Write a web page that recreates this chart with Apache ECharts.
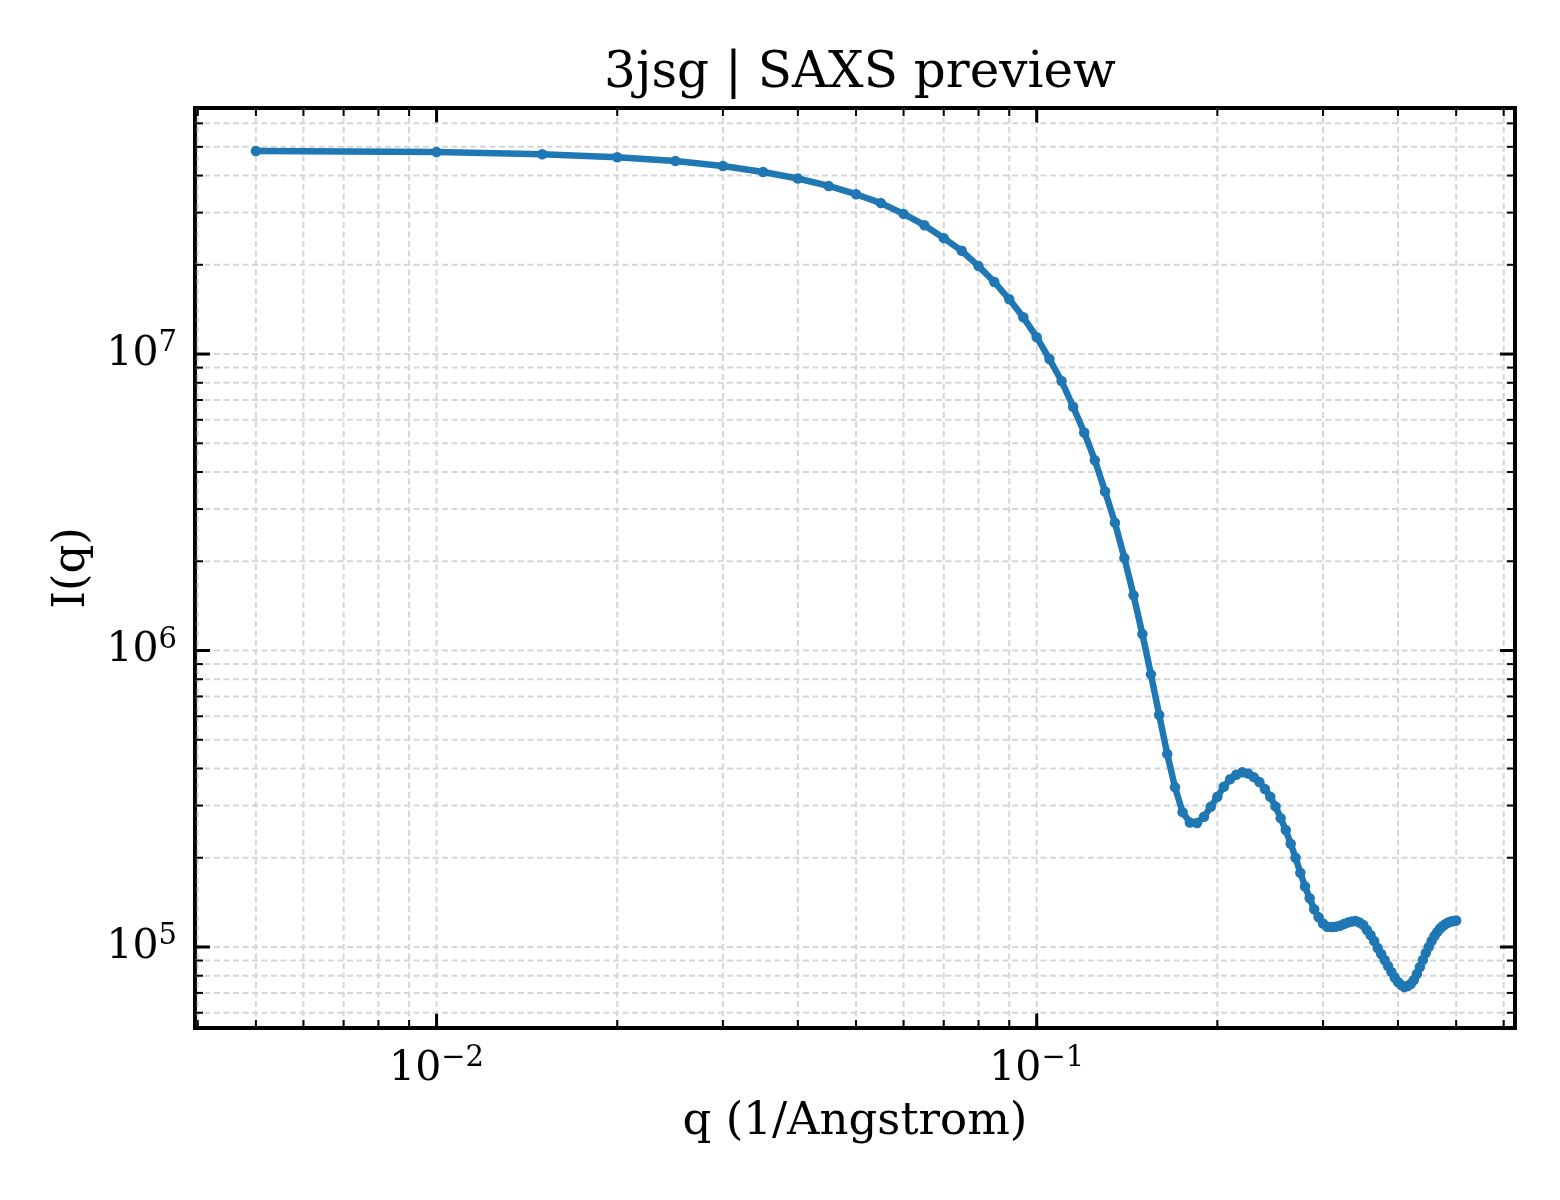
<!DOCTYPE html>
<html lang="en">
<head>
<meta charset="UTF-8">
<title>3jsg | SAXS preview</title>
<script src="https://cdn.jsdelivr.net/npm/echarts@6/dist/echarts.min.js"></script>
<style>
  html, body { margin: 0; padding: 0; background: #fff; }
  #main { width: 1560px; height: 1200px; }
</style>
</head>
<body>
<div id="main"></div>
<script>
// q grid (1/Angstrom) and intensity
var qValues = [
  0.005, 0.010, 0.015, 0.020, 0.025, 0.030, 0.035, 0.040, 0.045, 0.050,
  0.055, 0.060, 0.065, 0.070, 0.075, 0.080, 0.085, 0.090, 0.095, 0.100,
  0.105, 0.110, 0.115, 0.120, 0.125, 0.130, 0.135, 0.140, 0.145, 0.150,
  0.155, 0.160, 0.165, 0.170, 0.175, 0.180, 0.185, 0.190, 0.195, 0.200,
  0.205, 0.210, 0.215, 0.220, 0.225, 0.230, 0.235, 0.240, 0.245, 0.250,
  0.255, 0.260, 0.265, 0.270, 0.275, 0.280, 0.285, 0.290, 0.295, 0.300,
  0.305, 0.310, 0.315, 0.320, 0.325, 0.330, 0.335, 0.340, 0.345, 0.350,
  0.355, 0.360, 0.365, 0.370, 0.375, 0.380, 0.385, 0.390, 0.395, 0.400,
  0.405, 0.410, 0.415, 0.420, 0.425, 0.430, 0.435, 0.440, 0.445, 0.450,
  0.455, 0.460, 0.465, 0.470, 0.475, 0.480, 0.485, 0.490, 0.495, 0.500
];
var intensity = [
  4.84e7, 4.80e7, 4.72e7, 4.61e7, 4.48e7, 4.31e7, 4.11e7, 3.91e7, 3.69e7, 3.46e7,
  3.23e7, 2.97e7, 2.72e7, 2.46e7, 2.23e7, 1.98e7, 1.75e7, 1.53e7, 1.33e7, 1.14e7,
  9.62e6, 8.11e6, 6.64e6, 5.44e6, 4.38e6, 3.44e6, 2.70e6, 2.05e6, 1.535e6, 1.137e6,
  8.31e5, 6.06e5, 4.48e5, 3.46e5, 2.85e5, 2.63e5, 2.62e5, 2.75e5, 2.97e5, 3.21e5,
  3.47e5, 3.68e5, 3.81e5, 3.885e5, 3.85e5, 3.74e5, 3.60e5, 3.41e5, 3.21e5, 2.98e5,
  2.72e5, 2.48e5, 2.23e5, 2.00e5, 1.78e5, 1.60e5, 1.46e5, 1.34e5, 1.26e5, 1.20e5,
  1.17e5, 1.168e5, 1.17e5, 1.18e5, 1.196e5, 1.21e5, 1.219e5, 1.224e5, 1.21e5, 1.187e5,
  1.141e5, 1.098e5, 1.048e5, 9.92e4, 9.47e4, 9.04e4, 8.63e4, 8.24e4, 7.89e4, 7.62e4,
  7.44e4, 7.33e4, 7.38e4, 7.50e4, 7.74e4, 8.11e4, 8.56e4, 9.04e4, 9.54e4, 1.00e5,
  1.048e5, 1.089e5, 1.124e5, 1.154e5, 1.177e5, 1.196e5, 1.21e5, 1.219e5, 1.224e5, 1.229e5
];

// tick values (log axes, matplotlib style)
var xMajorTicks = [0.01, 0.1];
var xMinorTicks = [0.004, 0.005, 0.006, 0.007, 0.008, 0.009,
                   0.02, 0.03, 0.04, 0.05, 0.06, 0.07, 0.08, 0.09,
                   0.2, 0.3, 0.4, 0.5, 0.6];
var yMajorTicks = [1e5, 1e6, 1e7];
var yMinorTicks = [6e4, 7e4, 8e4, 9e4,
                   2e5, 3e5, 4e5, 5e5, 6e5, 7e5, 8e5, 9e5,
                   2e6, 3e6, 4e6, 5e6, 6e6, 7e6, 8e6, 9e6,
                   2e7, 3e7, 4e7, 5e7, 6e7];

var serif = 'DejaVu Serif';
var myChart = echarts.init(document.getElementById('main'));

// [x, y, major?0:1, dir x=0 / y=1]
var tickData = [];
xMajorTicks.forEach(function (v) { tickData.push([v, 1e6, 0, 0]); });
xMinorTicks.forEach(function (v) { tickData.push([v, 1e6, 1, 0]); });
yMajorTicks.forEach(function (v) { tickData.push([0.05, v, 0, 1]); });
yMinorTicks.forEach(function (v) { tickData.push([0.05, v, 1, 1]); });

var curve = qValues.map(function (q, i) { return [q, intensity[i]]; });

function powLabel(v) {
    var lg = Math.log10(v);
    var e = Math.round(lg);
    if (Math.abs(lg - e) > 1e-6) return '';
    return '{b|10}{s|' + (e < 0 ? '\u2212' + (-e) : e) + '}';
}

var labelRich = {
    b: { fontSize: 41, fontFamily: serif, color: '#000', lineHeight: 50 },
    s: { fontSize: 29, fontFamily: serif, color: '#000', lineHeight: 30, verticalAlign: 'top' }
};

function renderTicks(params, api) {
    var r = params.coordSys;
    var major = api.value(2) === 0;
    var isY = api.value(3) === 1;
    var len = major ? 15 : 8;
    var tickStyle = { stroke: '#000', lineWidth: major ? 3 : 2 };
    var gridStyle = { stroke: '#d6d6d6', lineWidth: 2, lineDash: [6, 3.5] };
    var p = api.coord([api.value(0), api.value(1)]);
    var kids = [];
    if (!isY) {
        var x = p[0];
        kids.push({ type: 'line', shape: { x1: x, y1: r.y, x2: x, y2: r.y + r.height }, style: gridStyle });
        kids.push({ type: 'line', shape: { x1: x, y1: r.y + r.height, x2: x, y2: r.y + r.height - len }, style: tickStyle });
        kids.push({ type: 'line', shape: { x1: x, y1: r.y, x2: x, y2: r.y + len }, style: tickStyle });
    } else {
        var y = p[1];
        kids.push({ type: 'line', shape: { x1: r.x, y1: y, x2: r.x + r.width, y2: y }, style: gridStyle });
        kids.push({ type: 'line', shape: { x1: r.x, y1: y, x2: r.x + len, y2: y }, style: tickStyle });
        kids.push({ type: 'line', shape: { x1: r.x + r.width, y1: y, x2: r.x + r.width - len, y2: y }, style: tickStyle });
    }
    return { type: 'group', children: kids };
}

var option = {
    animation: false,
    backgroundColor: '#fff',
    title: {
        text: '3jsg | SAXS preview',
        left: 855,
        textAlign: 'center',
        top: 44,
        textStyle: { fontFamily: serif, fontSize: 50, fontWeight: 'normal', color: '#000' }
    },
    grid: {
        left: 195, right: 45, top: 108, bottom: 172,
        show: true, borderColor: '#000', borderWidth: 4, backgroundColor: 'transparent'
    },
    xAxis: {
        type: 'log',
        logBase: 10,
        min: 0.003958,
        max: 0.6266,
        name: 'q (1/Angstrom)',
        nameLocation: 'middle',
        nameGap: 72,
        nameTextStyle: { fontFamily: serif, fontSize: 45, color: '#000' },
        axisLine: { show: false },
        axisTick: { show: false },
        splitLine: { show: false },
        axisLabel: { margin: 16, formatter: powLabel, rich: labelRich, showMinLabel: false, showMaxLabel: false }
    },
    yAxis: {
        type: 'log',
        logBase: 10,
        min: 53300,
        max: 6.76e7,
        name: 'I(q)',
        nameLocation: 'middle',
        nameGap: 100,
        nameTextStyle: { fontFamily: serif, fontSize: 45, color: '#000' },
        axisLine: { show: false },
        axisTick: { show: false },
        splitLine: { show: false },
        axisLabel: { margin: 18, formatter: powLabel, rich: labelRich, showMinLabel: false, showMaxLabel: false }
    },
    series: [{
        type: 'custom',
        silent: true,
        z: 1,
        renderItem: renderTicks,
        data: tickData
    }, {
        type: 'line',
        z: 3,
        data: curve,
        showAllSymbol: true,
        symbol: 'circle',
        symbolSize: 10.5,
        lineStyle: { color: '#1f77b4', width: 6.5 },
        itemStyle: { color: '#1f77b4', borderWidth: 0 }
    }]
};

myChart.setOption(option);
window.onresize = function () {
    myChart.resize();
};
</script>
</body>
</html>
